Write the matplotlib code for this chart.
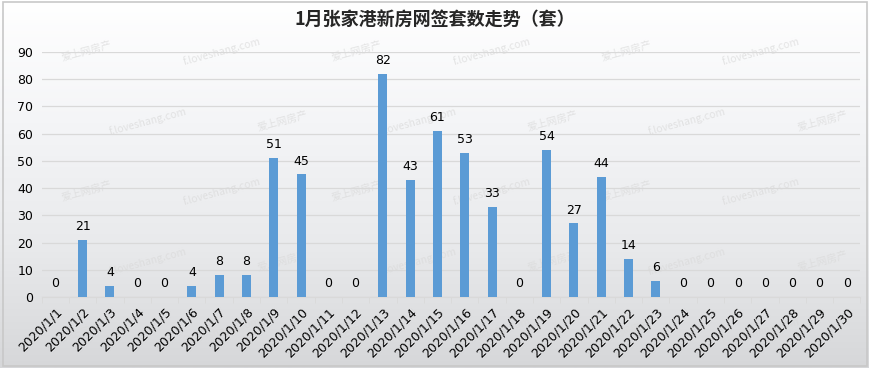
import matplotlib.pyplot as plt
import numpy as np

plt.rcParams["font.family"] = ["Noto Sans CJK SC", "DejaVu Sans"]

TITLE = "1月张家港新房网签套数走势（套）"
DATES = [f"2020/1/{d}" for d in range(1, 31)]
COUNTS = [0, 21, 4, 0, 0, 4, 8, 8, 51, 45, 0, 0, 82, 43, 61, 53, 33, 0,
          54, 27, 44, 14, 6, 0, 0, 0, 0, 0, 0, 0]
YTICKS = list(range(0, 100, 10))

BAR_COLOR = "#5B9BD5"


def main() -> None:
    fig = plt.figure(figsize=(8.7, 3.68), dpi=100)

    # background gradient + border
    bg = fig.add_axes([0, 0, 1, 1], zorder=0)
    grad = np.linspace(0, 1, 256).reshape(-1, 1)
    cmap = plt.matplotlib.colors.LinearSegmentedColormap.from_list(
        "bg", ["#ffffff", "#f4f5f7", "#e9eaec", "#d6d7d9"])
    bg.imshow(grad, aspect="auto", cmap=cmap, extent=[0, 1, 0, 1], origin="upper")
    bg.add_patch(plt.Rectangle((0.004, 0.006), 0.992, 0.988, fill=False,
                               edgecolor="#c8c8c8", lw=1.2, transform=bg.transAxes))
    bg.set_xlim(0, 1)
    bg.set_ylim(0, 1)
    bg.axis("off")

    # watermarks (kept inside the frame)
    for i in range(6):
        for j in range(5):
            x = 0.10 + i * 0.155 + (j % 2) * 0.07
            y = 0.10 + j * 0.19
            txt = "爱上网房产" if (i + j) % 2 == 0 else "f.loveshang.com"
            bg.text(x, y, txt, rotation=15, color="#d9d9d9", fontsize=7.5,
                    ha="center", va="center", alpha=0.7, zorder=1)

    ax = fig.add_axes([0.048, 0.193, 0.941, 0.666], zorder=2)
    ax.patch.set_visible(False)
    x = np.arange(len(DATES))
    ax.bar(x, COUNTS, width=0.33, color=BAR_COLOR, zorder=3)
    for xi, v in zip(x, COUNTS):
        ax.text(xi, v + 2.5, str(v), ha="center", va="bottom", fontsize=9, color="#000000",
                family=["DejaVu Sans"])

    ax.set_xlim(-0.5, len(DATES) - 0.5)
    ax.set_ylim(0, 90)
    ax.set_yticks(YTICKS)
    ax.yaxis.grid(True, color="#d9d9d9", lw=0.9, zorder=0)
    ax.set_axisbelow(True)
    ax.tick_params(axis="y", length=0, labelsize=9, pad=6)
    for lab in ax.get_yticklabels():
        lab.set_family(["DejaVu Sans"])

    ax.set_xticks(x)
    ax.set_xticklabels(DATES, rotation=45, ha="right", rotation_mode="anchor",
                       fontsize=9, family=["DejaVu Sans"])
    ax.tick_params(axis="x", length=0, pad=6)
    ax.set_xticks(np.arange(-0.5, len(DATES)), minor=True)
    ax.tick_params(axis="x", which="minor", length=4, color="#d9d9d9")

    for s in ["top", "right", "left"]:
        ax.spines[s].set_visible(False)
    ax.spines["bottom"].set_color("#d9d9d9")

    fig.text(0.5, 0.945, TITLE, ha="center", va="center", fontsize=13,
             fontweight="bold", color="#262626")

    fig.savefig("out.png", dpi=100)


if __name__ == "__main__":
    main()
